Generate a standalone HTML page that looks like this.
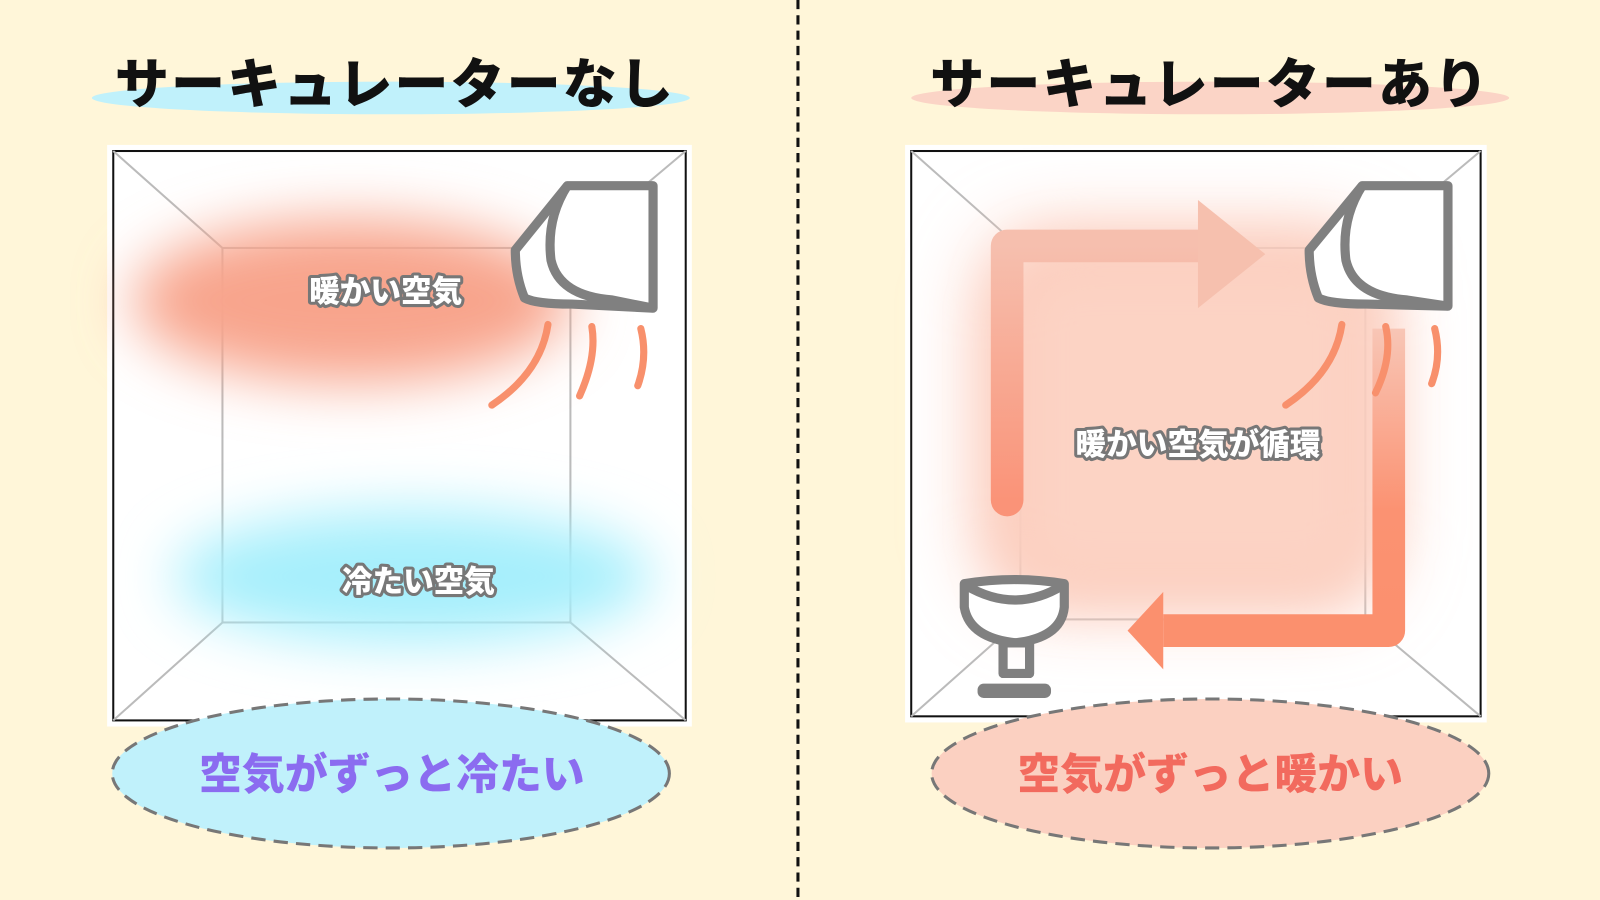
<!DOCTYPE html>
<html><head><meta charset="utf-8"><style>
html,body{margin:0;padding:0;background:#fff8dc;}
svg{display:block}
text{font-family:"Liberation Sans","Noto Sans CJK JP",sans-serif;font-weight:900;}
</style></head><body>
<svg width="1600" height="900" viewBox="0 0 1568 882" xmlns="http://www.w3.org/2000/svg">
<defs>
<filter id="b1" x="-50%" y="-50%" width="200%" height="200%"><feGaussianBlur stdDeviation="28"/></filter>
<filter id="b2" x="-50%" y="-50%" width="200%" height="200%"><feGaussianBlur stdDeviation="35"/></filter>
<linearGradient id="g1" x1="0" y1="1" x2="0" y2="0"><stop offset="0" stop-color="#fa9378"/><stop offset="1" stop-color="#f6bfae"/></linearGradient>
<linearGradient id="g2" x1="0" y1="0" x2="0" y2="1"><stop offset="0" stop-color="#f8c6b6"/><stop offset="0.6" stop-color="#fb9272"/><stop offset="1" stop-color="#fb906e"/></linearGradient>
</defs>
<rect width="1568" height="882" fill="#fff6d9"/>
<line x1="782" y1="0" x2="782" y2="882" stroke="#111" stroke-width="3" stroke-dasharray="9,6"/>

<ellipse cx="383" cy="96" rx="293" ry="16" fill="#c0f1fb"/>
<text x="387" y="101" font-size="53" letter-spacing="2" text-anchor="middle" fill="#111">サーキュレーターなし</text>
<ellipse cx="1186" cy="96" rx="293" ry="16" fill="#fbd4c6"/>
<text x="1186" y="101" font-size="53" letter-spacing="2" text-anchor="middle" fill="#111">サーキュレーターあり</text>

<rect x="105" y="142" width="573" height="570" fill="#fff"/>
<rect x="111" y="148" width="561" height="558" fill="#fff" stroke="#111" stroke-width="2"/>
<g stroke="#bbb" stroke-width="2" fill="none">
<rect x="218" y="243" width="341" height="367"/>
<line x1="111" y1="148" x2="218" y2="243"/><line x1="672" y1="148" x2="559" y2="243"/>
<line x1="111" y1="706" x2="218" y2="610"/><line x1="672" y1="706" x2="559" y2="610"/>
</g>
<ellipse cx="345" cy="295" rx="215" ry="80" fill="#f8a48c" filter="url(#b1)"/>
<ellipse cx="405" cy="565" rx="235" ry="65" fill="#a6effc" filter="url(#b1)"/>
<path d="M556,182 L640,182 L640,302 L560,298 Q525,298 514,292 Q505,270 505,245 Z" fill="#fff" stroke="#808080" stroke-width="9" stroke-linejoin="round"/>
<path d="M556,182 Q535,215 540,255 Q548,290 600,294 L640,302" fill="none" stroke="#808080" stroke-width="9" stroke-linejoin="round"/>
<g stroke="#f8906c" stroke-width="7" fill="none" stroke-linecap="round">
<path d="M537,318 Q530,365 482,397"/><path d="M580,320 Q585,350 568,388"/><path d="M628,322 Q635,350 625,378"/>
</g>
<text x="378" y="296" font-size="30" text-anchor="middle" fill="#fff" stroke="#777" stroke-width="6" paint-order="stroke" stroke-linejoin="round">暖かい空気</text>
<text x="410" y="580" font-size="30" text-anchor="middle" fill="#fff" stroke="#777" stroke-width="6" paint-order="stroke" stroke-linejoin="round">冷たい空気</text>

<ellipse cx="383" cy="758" rx="273" ry="73" fill="#c0f1fb" stroke="#777" stroke-width="3" stroke-dasharray="14,8"/>
<text x="384" y="773" font-size="42" text-anchor="middle" fill="#8b6cf0">空気がずっと冷たい</text>

<rect x="887" y="142" width="570" height="566" fill="#fff"/>
<rect x="893" y="148" width="558" height="554" fill="#fff" stroke="#111" stroke-width="2"/>
<g stroke="#bbb" stroke-width="2" fill="none">
<rect x="1000" y="243" width="338" height="364"/>
<line x1="893" y1="148" x2="1000" y2="243"/><line x1="1451" y1="148" x2="1338" y2="243"/>
<line x1="893" y1="702" x2="1000" y2="607"/><line x1="1451" y1="702" x2="1338" y2="607"/>
</g>
<rect x="960" y="225" width="400" height="370" rx="70" fill="#fbc4b2" filter="url(#b2)"/>
<rect x="990" y="250" width="355" height="330" rx="50" fill="#fcd3c4" filter="url(#b1)"/>
<path d="M987,490 L987,241 L1180,241" fill="none" stroke="url(#g1)" stroke-width="32" stroke-linecap="round" stroke-linejoin="round"/>
<polygon points="1174,196 1240,249 1174,302" fill="#f6c0ae"/>
<path d="M1361,322 L1361,618 L1140,618" fill="none" stroke="url(#g2)" stroke-width="32" stroke-linejoin="round"/>
<polygon points="1140,580 1105,618 1140,656" fill="#fb906e"/>
<path d="M1335,182 L1419,182 L1419,300 L1339,298 Q1303,298 1292,292 Q1283,270 1283,245 Z" fill="#fff" stroke="#808080" stroke-width="9" stroke-linejoin="round"/>
<path d="M1335,182 Q1314,215 1319,255 Q1327,290 1379,294 L1419,300" fill="none" stroke="#808080" stroke-width="9" stroke-linejoin="round"/>
<g stroke="#f8906c" stroke-width="7" fill="none" stroke-linecap="round">
<path d="M1315,318 Q1308,365 1260,397"/><path d="M1358,320 Q1365,350 1348,385"/><path d="M1406,322 Q1413,350 1403,376"/>
</g>
<g stroke="#808080" stroke-width="9" fill="#fff" stroke-linejoin="round">
<path d="M945,572 Q995,564 1043,572 L1043,595 Q1040,625 995,630 Q950,625 945,595 Z"/>
<path d="M947,574 Q995,602 1041,574" fill="none"/>
<rect x="983" y="630" width="26" height="30" fill="none"/>
</g>
<rect x="958" y="670" width="72" height="14" rx="6" fill="#808080"/>
<text x="1174" y="446" font-size="30" text-anchor="middle" fill="#fff" stroke="#777" stroke-width="6" paint-order="stroke" stroke-linejoin="round">暖かい空気が循環</text>

<ellipse cx="1186" cy="758" rx="273" ry="73" fill="#fbd0c1" stroke="#777" stroke-width="3" stroke-dasharray="14,8"/>
<text x="1186" y="773" font-size="42" text-anchor="middle" fill="#f26a5e">空気がずっと暖かい</text>
</svg>
</body></html>
